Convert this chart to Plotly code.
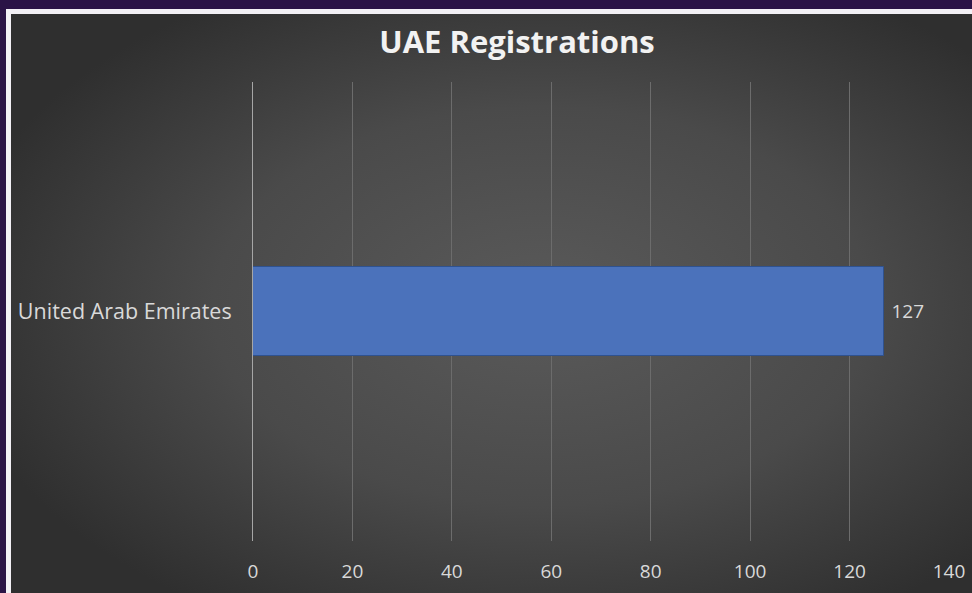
import base64
import plotly.graph_objects as go

# ---- data ----
categories = ["United Arab Emirates"]
registrations = [127]
x_ticks = [0, 20, 40, 60, 80, 100, 120, 140]
title_text = "UAE Registrations"

W, H = 972, 593

# background frame (white edge + radial gray gradient) as an SVG image
fw, fh = W - 6, H - 9
svg = f'''<svg xmlns="http://www.w3.org/2000/svg" width="{fw}" height="{fh}" viewBox="0 0 {fw} {fh}" preserveAspectRatio="none">
<defs><radialGradient id="g" cx="0.55" cy="0.5" r="0.62">
<stop offset="0" stop-color="#5a5a5a"/><stop offset="0.55" stop-color="#4a4a4a"/><stop offset="1" stop-color="#2f2f2f"/>
</radialGradient></defs>
<rect x="0" y="0" width="{fw}" height="{fh}" fill="#f2f0f5"/>
<rect x="5" y="5" width="{fw}" height="{fh}" fill="url(#g)"/>
</svg>'''
src = "data:image/svg+xml;base64," + base64.b64encode(svg.encode()).decode()

fig = go.Figure()
fig.add_trace(go.Bar(
    y=categories, x=registrations, orientation="h",
    width=0.196,
    marker=dict(color="#4b72bb", line=dict(color="#2f528f", width=1)),
    text=["\u00a0" + str(v) for v in registrations], textposition="outside",
    textfont=dict(family="Open Sans", size=19, color="#d9d9d9"),
    cliponaxis=False,
))

fig.update_layout(
    width=W, height=H,
    autosize=False,
    margin=dict(l=0, r=0, t=0, b=0, pad=0),
    paper_bgcolor="#2a1346",
    plot_bgcolor="rgba(0,0,0,0)",
    showlegend=False,
    images=[dict(source=src, xref="paper", yref="paper",
                 x=6 / W, y=1 - 9 / H, sizex=fw / W, sizey=fh / H,
                 xanchor="left", yanchor="top", sizing="stretch", layer="below")],
    title=dict(text=f"<b>{title_text}</b>", x=517 / W, xanchor="center",
               y=1 - 42 / H, yanchor="middle",
               font=dict(family="Open Sans", size=31, color="#f2f2f2")),
    xaxis=dict(domain=[253 / W, 949 / W], range=[0, 140], automargin=False,
               tickvals=x_ticks, ticktext=[str(t) for t in x_ticks],
               showgrid=True, gridcolor="#6c6c6c", gridwidth=1,
               zeroline=False, showline=False,
               ticks="outside", ticklen=13, tickcolor="rgba(0,0,0,0)",
               tickfont=dict(family="Open Sans", size=19, color="#d9d9d9"),
               fixedrange=True),
    yaxis=dict(domain=[52 / H, 1 - 82 / H], range=[-0.5, 0.5], automargin=False,
               showgrid=False, zeroline=False,
               showline=True, linecolor="#a6a6a6", linewidth=1,
               ticks="outside", ticklen=16, tickcolor="rgba(0,0,0,0)",
               tickfont=dict(family="Open Sans", size=21.5, color="#d9d9d9"),
               fixedrange=True),
    bargap=0,
)

fig.write_html(
    "out.html",
    config={"responsive": False, "displayModeBar": False},
    post_script="document.body.style.margin='0';document.body.style.overflow='hidden';",
)
